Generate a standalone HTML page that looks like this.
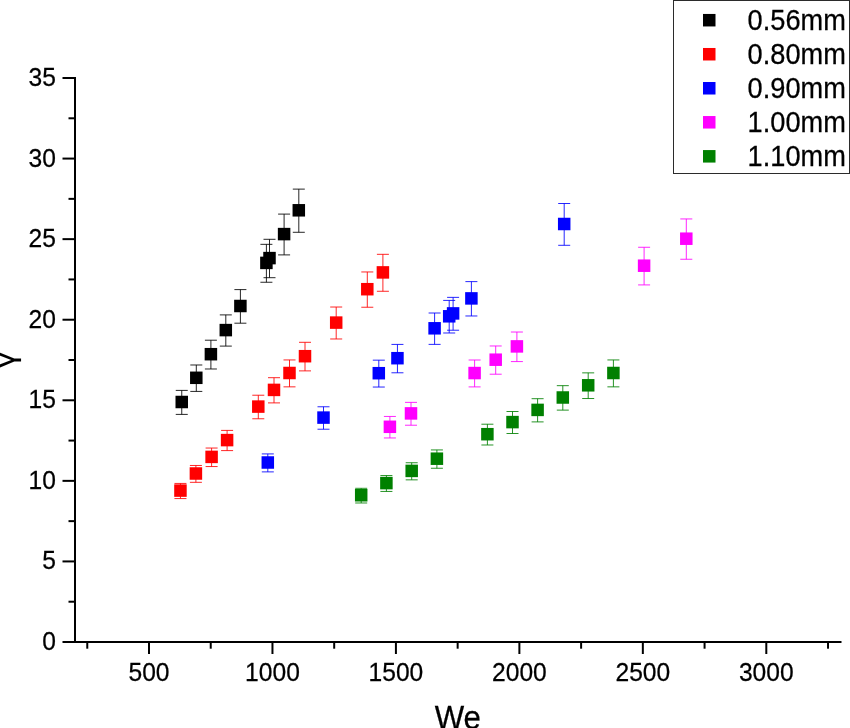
<!DOCTYPE html>
<html><head><meta charset="utf-8"><title>We chart</title>
<style>
html,body{margin:0;padding:0;background:#fff;}
body{width:850px;height:728px;overflow:hidden;}
svg{display:block;}
text{font-family:"Liberation Sans",sans-serif;fill:#000;}
.tick{font-size:24.6px;}
.leg{font-size:27.2px;}
.ttl{font-size:31.2px;}
.gam{font-family:"WenQuanYi Zen Hei","Liberation Sans",sans-serif;font-size:32px;}
text{stroke:#000;stroke-width:0.25px;}
</style></head><body>
<svg width="850" height="728" viewBox="0 0 850 728">
<rect x="0" y="0" width="850" height="728" fill="#fff"/>

<g stroke="#000" stroke-width="2" fill="none" stroke-linecap="butt">
<line x1="75" y1="77" x2="75" y2="643"/>
<line x1="62.5" y1="642" x2="841.5" y2="642"/>
<line x1="68.5" y1="601.71" x2="75" y2="601.71"/>
<line x1="62.5" y1="561.43" x2="75" y2="561.43"/>
<line x1="68.5" y1="521.14" x2="75" y2="521.14"/>
<line x1="62.5" y1="480.86" x2="75" y2="480.86"/>
<line x1="68.5" y1="440.57" x2="75" y2="440.57"/>
<line x1="62.5" y1="400.29" x2="75" y2="400.29"/>
<line x1="68.5" y1="360.00" x2="75" y2="360.00"/>
<line x1="62.5" y1="319.72" x2="75" y2="319.72"/>
<line x1="68.5" y1="279.43" x2="75" y2="279.43"/>
<line x1="62.5" y1="239.14" x2="75" y2="239.14"/>
<line x1="68.5" y1="198.86" x2="75" y2="198.86"/>
<line x1="62.5" y1="158.57" x2="75" y2="158.57"/>
<line x1="68.5" y1="118.29" x2="75" y2="118.29"/>
<line x1="62.5" y1="78.00" x2="75" y2="78.00"/>
<line x1="87.27" y1="642" x2="87.27" y2="648.7"/>
<line x1="149.00" y1="642" x2="149.00" y2="654"/>
<line x1="210.73" y1="642" x2="210.73" y2="648.7"/>
<line x1="272.46" y1="642" x2="272.46" y2="654"/>
<line x1="334.19" y1="642" x2="334.19" y2="648.7"/>
<line x1="395.92" y1="642" x2="395.92" y2="654"/>
<line x1="457.65" y1="642" x2="457.65" y2="648.7"/>
<line x1="519.38" y1="642" x2="519.38" y2="654"/>
<line x1="581.11" y1="642" x2="581.11" y2="648.7"/>
<line x1="642.84" y1="642" x2="642.84" y2="654"/>
<line x1="704.57" y1="642" x2="704.57" y2="648.7"/>
<line x1="766.30" y1="642" x2="766.30" y2="654"/>
<line x1="828.03" y1="642" x2="828.03" y2="648.7"/>
</g>
<g class="tick" text-anchor="end">
<text transform="translate(55.9 650.00) scale(1 1.07)">0</text>
<text transform="translate(55.9 569.43) scale(1 1.07)">5</text>
<text transform="translate(55.9 488.86) scale(1 1.07)">10</text>
<text transform="translate(55.9 408.29) scale(1 1.07)">15</text>
<text transform="translate(55.9 327.72) scale(1 1.07)">20</text>
<text transform="translate(55.9 247.14) scale(1 1.07)">25</text>
<text transform="translate(55.9 166.57) scale(1 1.07)">30</text>
<text transform="translate(55.9 86.00) scale(1 1.07)">35</text>
</g>
<g class="tick" text-anchor="middle">
<text transform="translate(149.00 681) scale(1 1.07)">500</text>
<text transform="translate(272.46 681) scale(1 1.07)">1000</text>
<text transform="translate(395.92 681) scale(1 1.07)">1500</text>
<text transform="translate(519.38 681) scale(1 1.07)">2000</text>
<text transform="translate(642.84 681) scale(1 1.07)">2500</text>
<text transform="translate(766.30 681) scale(1 1.07)">3000</text>
</g>
<text class="ttl" text-anchor="middle" transform="translate(457.8 729.2) scale(1 1.06)">We</text>
<text class="gam" text-anchor="middle" transform="translate(15.4 359.9) rotate(-90)" style="stroke:none">γ</text>
<g fill="#000000" stroke="#000000">
<path d="M181.75 390.40V414.40M175.75 390.40H187.75M175.75 414.40H187.75" fill="none" stroke-width="1.0" stroke-opacity="0.85"/>
<path d="M196.30 364.99V391.41M190.30 364.99H202.30M190.30 391.41H202.30" fill="none" stroke-width="1.0" stroke-opacity="0.85"/>
<path d="M210.90 340.21V368.99M204.90 340.21H216.90M204.90 368.99H216.90" fill="none" stroke-width="1.0" stroke-opacity="0.85"/>
<path d="M225.80 314.90V346.10M219.80 314.90H231.80M219.80 346.10H231.80" fill="none" stroke-width="1.0" stroke-opacity="0.85"/>
<path d="M240.40 289.60V323.20M234.40 289.60H246.40M234.40 323.20H246.40" fill="none" stroke-width="1.0" stroke-opacity="0.85"/>
<path d="M266.40 244.34V282.25M260.40 244.34H272.40M260.40 282.25H272.40" fill="none" stroke-width="1.0" stroke-opacity="0.85"/>
<path d="M269.50 239.31V277.69M263.50 239.31H275.50M263.50 277.69H275.50" fill="none" stroke-width="1.0" stroke-opacity="0.85"/>
<path d="M284.10 214.10V254.90M278.10 214.10H290.10M278.10 254.90H290.10" fill="none" stroke-width="1.0" stroke-opacity="0.85"/>
<path d="M298.80 189.12V232.29M292.80 189.12H304.80M292.80 232.29H304.80" fill="none" stroke-width="1.0" stroke-opacity="0.85"/>
<rect x="175.50" y="395.75" width="12.5" height="12.5" stroke="none"/>
<rect x="190.05" y="371.55" width="12.5" height="12.5" stroke="none"/>
<rect x="204.65" y="347.95" width="12.5" height="12.5" stroke="none"/>
<rect x="219.55" y="323.85" width="12.5" height="12.5" stroke="none"/>
<rect x="234.15" y="299.75" width="12.5" height="12.5" stroke="none"/>
<rect x="260.15" y="256.65" width="12.5" height="12.5" stroke="none"/>
<rect x="263.25" y="251.85" width="12.5" height="12.5" stroke="none"/>
<rect x="277.85" y="227.85" width="12.5" height="12.5" stroke="none"/>
<rect x="292.55" y="204.05" width="12.5" height="12.5" stroke="none"/>
</g>
<g fill="#ff0000" stroke="#ff0000">
<path d="M180.45 483.43V498.57M174.45 483.43H186.45M174.45 498.57H186.45" fill="none" stroke-width="1.0" stroke-opacity="0.85"/>
<path d="M195.90 465.47V482.32M189.90 465.47H201.90M189.90 482.32H201.90" fill="none" stroke-width="1.0" stroke-opacity="0.85"/>
<path d="M211.60 448.04V466.55M205.60 448.04H217.60M205.60 466.55H217.60" fill="none" stroke-width="1.0" stroke-opacity="0.85"/>
<path d="M227.10 430.40V450.60M221.10 430.40H233.10M221.10 450.60H233.10" fill="none" stroke-width="1.0" stroke-opacity="0.85"/>
<path d="M258.30 395.23V418.77M252.30 395.23H264.30M252.30 418.77H264.30" fill="none" stroke-width="1.0" stroke-opacity="0.85"/>
<path d="M274.00 377.69V402.90M268.00 377.69H280.00M268.00 402.90H280.00" fill="none" stroke-width="1.0" stroke-opacity="0.85"/>
<path d="M289.50 359.95V386.85M283.50 359.95H295.50M283.50 386.85H295.50" fill="none" stroke-width="1.0" stroke-opacity="0.85"/>
<path d="M305.00 342.31V370.89M299.00 342.31H311.00M299.00 370.89H311.00" fill="none" stroke-width="1.0" stroke-opacity="0.85"/>
<path d="M336.20 307.03V338.97M330.20 307.03H342.20M330.20 338.97H342.20" fill="none" stroke-width="1.0" stroke-opacity="0.85"/>
<path d="M367.30 271.96V307.24M361.30 271.96H373.30M361.30 307.24H373.30" fill="none" stroke-width="1.0" stroke-opacity="0.85"/>
<path d="M382.90 254.32V291.28M376.90 254.32H388.90M376.90 291.28H388.90" fill="none" stroke-width="1.0" stroke-opacity="0.85"/>
<rect x="174.20" y="484.35" width="12.5" height="12.5" stroke="none"/>
<rect x="189.65" y="467.25" width="12.5" height="12.5" stroke="none"/>
<rect x="205.35" y="450.65" width="12.5" height="12.5" stroke="none"/>
<rect x="220.85" y="433.85" width="12.5" height="12.5" stroke="none"/>
<rect x="252.05" y="400.35" width="12.5" height="12.5" stroke="none"/>
<rect x="267.75" y="383.65" width="12.5" height="12.5" stroke="none"/>
<rect x="283.25" y="366.75" width="12.5" height="12.5" stroke="none"/>
<rect x="298.75" y="349.95" width="12.5" height="12.5" stroke="none"/>
<rect x="329.95" y="316.35" width="12.5" height="12.5" stroke="none"/>
<rect x="361.05" y="282.95" width="12.5" height="12.5" stroke="none"/>
<rect x="376.65" y="266.15" width="12.5" height="12.5" stroke="none"/>
</g>
<g fill="#0000ff" stroke="#0000ff">
<path d="M267.80 453.92V471.88M261.80 453.92H273.80M261.80 471.88H273.80" fill="none" stroke-width="1.0" stroke-opacity="0.85"/>
<path d="M323.50 406.78V429.22M317.50 406.78H329.50M317.50 429.22H329.50" fill="none" stroke-width="1.0" stroke-opacity="0.85"/>
<path d="M378.80 360.16V387.04M372.80 360.16H384.80M372.80 387.04H384.80" fill="none" stroke-width="1.0" stroke-opacity="0.85"/>
<path d="M397.45 344.41V372.79M391.45 344.41H403.45M391.45 372.79H403.45" fill="none" stroke-width="1.0" stroke-opacity="0.85"/>
<path d="M434.60 313.01V344.38M428.60 313.01H440.60M428.60 344.38H440.60" fill="none" stroke-width="1.0" stroke-opacity="0.85"/>
<path d="M449.20 300.41V332.99M443.20 300.41H455.20M443.20 332.99H455.20" fill="none" stroke-width="1.0" stroke-opacity="0.85"/>
<path d="M453.10 297.37V330.23M447.10 297.37H459.10M447.10 330.23H459.10" fill="none" stroke-width="1.0" stroke-opacity="0.85"/>
<path d="M471.40 281.62V315.98M465.40 281.62H477.40M465.40 315.98H477.40" fill="none" stroke-width="1.0" stroke-opacity="0.85"/>
<path d="M564.20 203.50V245.30M558.20 203.50H570.20M558.20 245.30H570.20" fill="none" stroke-width="1.0" stroke-opacity="0.85"/>
<rect x="261.55" y="456.25" width="12.5" height="12.5" stroke="none"/>
<rect x="317.25" y="411.35" width="12.5" height="12.5" stroke="none"/>
<rect x="372.55" y="366.95" width="12.5" height="12.5" stroke="none"/>
<rect x="391.20" y="351.95" width="12.5" height="12.5" stroke="none"/>
<rect x="428.35" y="322.05" width="12.5" height="12.5" stroke="none"/>
<rect x="442.95" y="310.05" width="12.5" height="12.5" stroke="none"/>
<rect x="446.85" y="307.15" width="12.5" height="12.5" stroke="none"/>
<rect x="465.15" y="292.15" width="12.5" height="12.5" stroke="none"/>
<rect x="557.95" y="217.75" width="12.5" height="12.5" stroke="none"/>
</g>
<g fill="#ff00ff" stroke="#ff00ff">
<path d="M389.90 416.44V437.96M383.90 416.44H395.90M383.90 437.96H395.90" fill="none" stroke-width="1.0" stroke-opacity="0.85"/>
<path d="M411.00 402.37V425.23M405.00 402.37H417.00M405.00 425.23H417.00" fill="none" stroke-width="1.0" stroke-opacity="0.85"/>
<path d="M474.60 360.00V386.90M468.60 360.00H480.60M468.60 386.90H480.60" fill="none" stroke-width="1.0" stroke-opacity="0.85"/>
<path d="M495.70 345.98V374.21M489.70 345.98H501.70M489.70 374.21H501.70" fill="none" stroke-width="1.0" stroke-opacity="0.85"/>
<path d="M516.90 332.02V361.58M510.90 332.02H522.90M510.90 361.58H522.90" fill="none" stroke-width="1.0" stroke-opacity="0.85"/>
<path d="M644.10 247.28V284.91M638.10 247.28H650.10M638.10 284.91H650.10" fill="none" stroke-width="1.0" stroke-opacity="0.85"/>
<path d="M686.30 218.94V259.26M680.30 218.94H692.30M680.30 259.26H692.30" fill="none" stroke-width="1.0" stroke-opacity="0.85"/>
<rect x="383.65" y="420.55" width="12.5" height="12.5" stroke="none"/>
<rect x="404.75" y="407.15" width="12.5" height="12.5" stroke="none"/>
<rect x="468.35" y="366.80" width="12.5" height="12.5" stroke="none"/>
<rect x="489.45" y="353.45" width="12.5" height="12.5" stroke="none"/>
<rect x="510.65" y="340.15" width="12.5" height="12.5" stroke="none"/>
<rect x="637.85" y="259.45" width="12.5" height="12.5" stroke="none"/>
<rect x="680.05" y="232.45" width="12.5" height="12.5" stroke="none"/>
</g>
<g fill="#008000" stroke="#008000">
<path d="M361.20 488.31V502.99M355.20 488.31H367.20M355.20 502.99H367.20" fill="none" stroke-width="1.0" stroke-opacity="0.85"/>
<path d="M386.40 475.56V491.44M380.40 475.56H392.40M380.40 491.44H392.40" fill="none" stroke-width="1.0" stroke-opacity="0.85"/>
<path d="M411.70 462.74V479.85M405.70 462.74H417.70M405.70 479.85H417.70" fill="none" stroke-width="1.0" stroke-opacity="0.85"/>
<path d="M436.90 449.93V468.26M430.90 449.93H442.90M430.90 468.26H442.90" fill="none" stroke-width="1.0" stroke-opacity="0.85"/>
<path d="M487.40 424.21V444.99M481.40 424.21H493.40M481.40 444.99H493.40" fill="none" stroke-width="1.0" stroke-opacity="0.85"/>
<path d="M512.50 411.50V433.50M506.50 411.50H518.50M506.50 433.50H518.50" fill="none" stroke-width="1.0" stroke-opacity="0.85"/>
<path d="M537.60 398.69V421.90M531.60 398.69H543.60M531.60 421.90H543.60" fill="none" stroke-width="1.0" stroke-opacity="0.85"/>
<path d="M562.80 385.67V410.12M556.80 385.67H568.80M556.80 410.12H568.80" fill="none" stroke-width="1.0" stroke-opacity="0.85"/>
<path d="M588.20 372.87V398.53M582.20 372.87H594.20M582.20 398.53H594.20" fill="none" stroke-width="1.0" stroke-opacity="0.85"/>
<path d="M613.40 359.95V386.85M607.40 359.95H619.40M607.40 386.85H619.40" fill="none" stroke-width="1.0" stroke-opacity="0.85"/>
<rect x="354.95" y="489.00" width="12.5" height="12.5" stroke="none"/>
<rect x="380.15" y="476.85" width="12.5" height="12.5" stroke="none"/>
<rect x="405.45" y="464.65" width="12.5" height="12.5" stroke="none"/>
<rect x="430.65" y="452.45" width="12.5" height="12.5" stroke="none"/>
<rect x="481.15" y="427.95" width="12.5" height="12.5" stroke="none"/>
<rect x="506.25" y="415.85" width="12.5" height="12.5" stroke="none"/>
<rect x="531.35" y="403.65" width="12.5" height="12.5" stroke="none"/>
<rect x="556.55" y="391.25" width="12.5" height="12.5" stroke="none"/>
<rect x="581.95" y="379.05" width="12.5" height="12.5" stroke="none"/>
<rect x="607.15" y="366.75" width="12.5" height="12.5" stroke="none"/>
</g>
<rect x="673.5" y="0.5" width="176" height="173" fill="#fff" stroke="#2b2b2b" stroke-width="1"/>
<rect x="703" y="13.95" width="12.5" height="12.5" fill="#000000"/>
<text class="leg" transform="translate(747.6 30.00) scale(1 1.09)">0.56mm</text>
<rect x="703" y="47.98" width="12.5" height="12.5" fill="#ff0000"/>
<text class="leg" transform="translate(747.6 64.03) scale(1 1.09)">0.80mm</text>
<rect x="703" y="82.01" width="12.5" height="12.5" fill="#0000ff"/>
<text class="leg" transform="translate(747.6 98.06) scale(1 1.09)">0.90mm</text>
<rect x="703" y="116.04" width="12.5" height="12.5" fill="#ff00ff"/>
<text class="leg" transform="translate(747.6 132.09) scale(1 1.09)">1.00mm</text>
<rect x="703" y="150.07" width="12.5" height="12.5" fill="#008000"/>
<text class="leg" transform="translate(747.6 166.12) scale(1 1.09)">1.10mm</text>
</svg></body></html>
